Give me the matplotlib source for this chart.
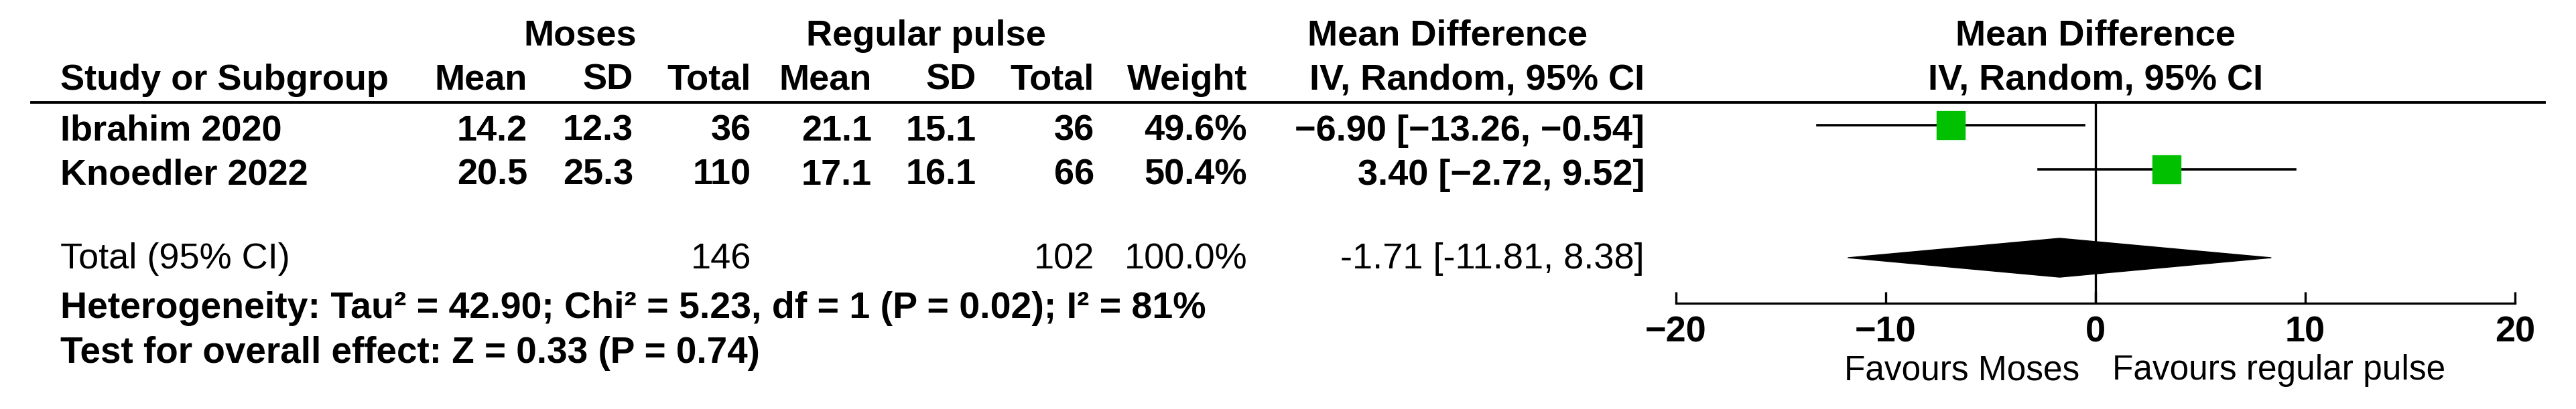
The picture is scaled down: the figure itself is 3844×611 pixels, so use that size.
import matplotlib.pyplot as plt
import numpy as np
from matplotlib.lines import Line2D

plt.rcParams['font.family'] = ['Liberation Sans', 'DejaVu Sans']

# study data
studies = ["Ibrahim 2020", "Knoedler 2022"]
moses_mean = [14.2, 20.5]
moses_sd = [12.3, 25.3]
moses_n = [36, 110]
reg_mean = [21.1, 17.1]
reg_sd = [15.1, 16.1]
reg_n = [36, 66]
weights = [49.6, 50.4]
md = [-6.90, 3.40]
ci_lo = [-13.26, -2.72]
ci_hi = [-0.54, 9.52]

# pooled
total_moses = 146
total_reg = 102
pooled_md = -1.71
pooled_lo = -11.81
pooled_hi = 8.38
het_text = "Heterogeneity: Tau² = 42.90; Chi² = 5.23, df = 1 (P = 0.02); I² = 81%"
test_text = "Test for overall effect: Z = 0.33 (P = 0.74)"

xticks = [-20, -10, 0, 10, 20]

W, H = 3844, 611
fig = plt.figure(figsize=(W / 100, H / 100), dpi=100)
fig.patch.set_facecolor('white')

fs = 39


def fx(px):
    return px / W


def fy(py):
    return 1 - py / H


def put(px, py, s, ha='right', weight='bold', size=fs):
    fig.text(fx(px), fy(py), s, ha=ha, va='baseline', fontsize=size, fontweight=weight)


def fmt(v):
    return f"{v:.2f}".replace('-', '\u2212')


# headers
put(866, 68, "Moses", ha='center')
put(1382, 68, "Regular pulse", ha='center')
put(2160, 68, "Mean Difference", ha='center')
put(3127, 68, "Mean Difference", ha='center')

put(90, 134, "Study or Subgroup", ha='left')
col_right = [787, 945, 1121, 1301, 1457, 1633, 1861, 2454]
col_names = ["Mean", "SD", "Total", "Mean", "SD", "Total", "Weight", "IV, Random, 95% CI"]
for px, name in zip(col_right, col_names):
    put(px, 134, name)
put(3127, 134, "IV, Random, 95% CI", ha='center')

fig.add_artist(Line2D([fx(47), fx(3797)], [fy(153), fy(153)], color='black', lw=2.8,
                      transform=fig.transFigure))

# study rows
row_base = [210, 276]
for i in range(len(studies)):
    b = row_base[i]
    put(90, b, studies[i], ha='left')
    vals = [f"{moses_mean[i]:.1f}", f"{moses_sd[i]:.1f}", f"{moses_n[i]}",
            f"{reg_mean[i]:.1f}", f"{reg_sd[i]:.1f}", f"{reg_n[i]}", f"{weights[i]:.1f}%",
            f"{fmt(md[i])} [{fmt(ci_lo[i])}, {fmt(ci_hi[i])}]"]
    for px, v in zip(col_right, vals):
        put(px, b, v)

# total row
put(90, 401, "Total (95% CI)", ha='left', weight='normal')
put(1121, 401, f"{total_moses}", weight='normal')
put(1633, 401, f"{total_reg}", weight='normal')
put(1861, 401, "100.0%", weight='normal')
put(2454, 401, f"{pooled_md:.2f} [{pooled_lo:.2f}, {pooled_hi:.2f}]", weight='normal')

put(90, 475, het_text, ha='left', size=40)
put(90, 542, test_text, ha='left', size=39.5)

# forest panel
ax = fig.add_axes([fx(2501), fy(453), fx(3753) - fx(2501), (453 - 153) / H])
ax.set_xlim(-20, 20)
ax.set_ylim(4.03, -0.515)
ax.patch.set_alpha(0)
for side in ['top', 'left', 'right']:
    ax.spines[side].set_visible(False)
ax.spines['bottom'].set_linewidth(2.4)
ax.set_yticks([])
ax.set_xticks(xticks)
ax.tick_params(axis='x', direction='in', length=12, width=2.4, pad=13, labelsize=fs)
for lab in ax.get_xticklabels():
    lab.set_fontweight('bold')

ax.axvline(0, color='black', lw=2.4, zorder=1)

rows = [0, 1]
for i, y in enumerate(rows):
    ax.plot([ci_lo[i], ci_hi[i]], [y, y], color='black', lw=2.6, zorder=2)
    ax.plot(md[i], y, marker='s', color='#00C000', markersize=30 * np.sqrt(weights[i] / 50),
            linestyle='none', zorder=3)

y_tot = 3
dh = 0.44
ax.fill([pooled_lo, pooled_md, pooled_hi, pooled_md],
        [y_tot, y_tot - dh, y_tot, y_tot + dh], color='black', zorder=3)

put(3103, 567, "Favours Moses", weight='normal', size=37)
put(3152, 567, "Favours regular pulse", ha='left', weight='normal', size=37)

fig.savefig("out.png", dpi=100, facecolor='white')
